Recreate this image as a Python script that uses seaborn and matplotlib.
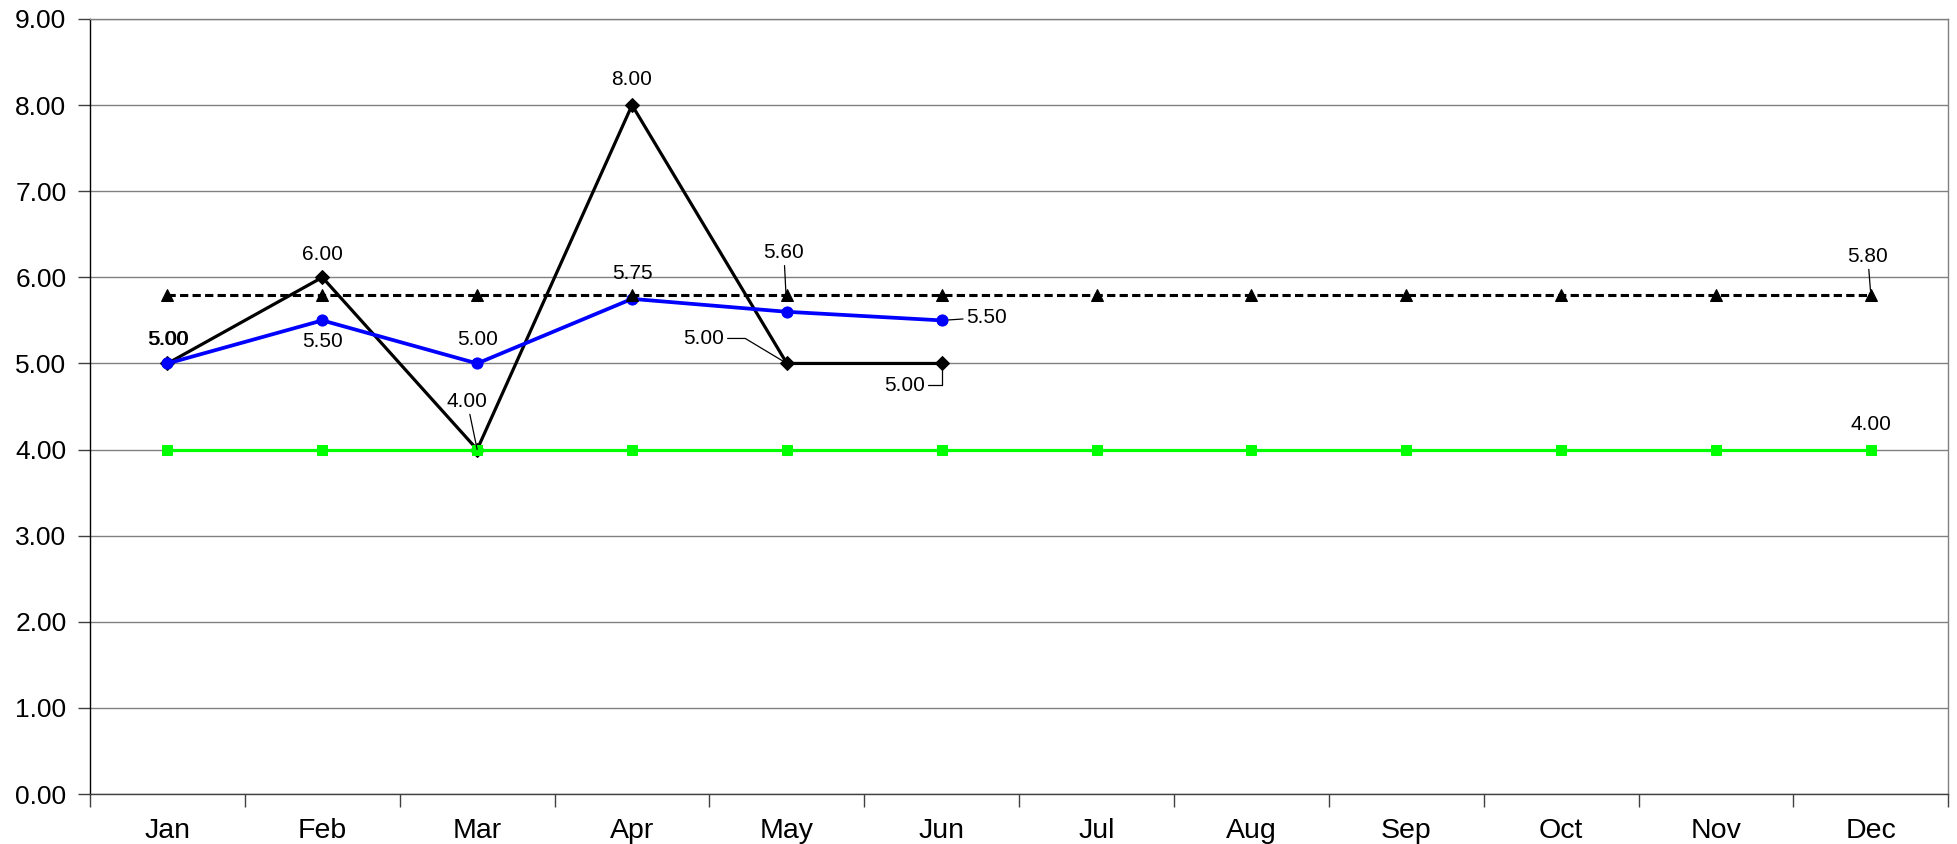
import pandas as pd
import seaborn as sns
import matplotlib.pyplot as plt
from matplotlib.ticker import FormatStrFormatter, FixedLocator

#--------------
months = ['Jan', 'Feb', 'Mar', 'Apr', 'May', 'Jun', 'Jul', 'Aug', 'Sep', 'Oct', 'Nov', 'Dec']
actual = [5.00, 6.00, 4.00, 8.00, 5.00, 5.00]
average = [5.00, 5.50, 5.00, 5.75, 5.60, 5.50]
target = [5.80, 5.80, 5.80, 5.80, 5.80, 5.80, 5.80, 5.80, 5.80, 5.80, 5.80, 5.80]
minimum = [4.00, 4.00, 4.00, 4.00, 4.00, 4.00, 4.00, 4.00, 4.00, 4.00, 4.00, 4.00]
y_ticks = [0, 1, 2, 3, 4, 5, 6, 7, 8, 9]

#--------------
sns.set_style('white')
plt.rcParams['font.family'] = ['Liberation Sans', 'DejaVu Sans']
plt.rcParams['text.color'] = 'black'
plt.rcParams['xtick.labelcolor'] = 'black'
plt.rcParams['ytick.labelcolor'] = 'black'

fig, ax = plt.subplots(figsize=(19.58, 8.44), dpi=100)
fig.subplots_adjust(left=0.046, right=0.995, top=0.9775, bottom=0.0592)

pos = list(range(len(months)))
df_act = pd.DataFrame({'pos': pos[:len(actual)], 'val': actual})
df_avg = pd.DataFrame({'pos': pos[:len(average)], 'val': average})
df_tgt = pd.DataFrame({'pos': pos, 'val': target})
df_min = pd.DataFrame({'pos': pos, 'val': minimum})

sns.lineplot(data=df_act, x='pos', y='val', ax=ax, color='black', linewidth=2.3,
             marker='D', markersize=7, markeredgecolor='black', zorder=3)
sns.lineplot(data=df_avg, x='pos', y='val', ax=ax, color='#0000ff', linewidth=2.7,
             marker='o', markersize=8, markeredgecolor='#0000ff', zorder=4)
sns.lineplot(data=df_tgt, x='pos', y='val', ax=ax, color='black', linewidth=2.2,
             linestyle=(0, (2.7, 1.4)), marker='^', markersize=8.5,
             markeredgecolor='black', zorder=5)
sns.lineplot(data=df_min, x='pos', y='val', ax=ax, color='#00ff00', linewidth=2.3,
             marker='s', markersize=7, markeredgecolor='#00ff00', zorder=6)

#--------------
ax.set_xlim(-0.5, len(months) - 0.5)
ax.set_ylim(0, 9)
ax.set_yticks(y_ticks)
ax.yaxis.set_major_formatter(FormatStrFormatter('%.2f'))
ax.xaxis.set_major_locator(FixedLocator([p - 0.5 for p in pos] + [len(months) - 0.5]))
ax.xaxis.set_minor_locator(FixedLocator(pos))
ax.set_xticklabels([], minor=False)
ax.set_xticklabels(months, minor=True)
ax.tick_params(axis='x', which='major', bottom=True, direction='out', length=9,
               width=1, color='#404040')
ax.tick_params(axis='x', which='minor', bottom=True, length=0, pad=17,
               labelsize=20.5, labelcolor='black')
ax.tick_params(axis='y', left=True, direction='out', length=9, width=1,
               color='#404040', pad=8, labelsize=19, labelcolor='black')
ax.set_xlabel('')
ax.set_ylabel('')
ax.grid(axis='y', color='#808080', linewidth=1)
ax.set_axisbelow(True)
for s in ['top', 'right']:
    ax.spines[s].set_color('#808080')
ax.spines['left'].set_color('black')
ax.spines['bottom'].set_color('#404040')
for s in ax.spines.values():
    s.set_linewidth(1)


def label(x, y, dx, dy, conn=None, shrink=0):
    kw = {}
    if conn is not None:
        kw['arrowprops'] = dict(arrowstyle='-', color='black', linewidth=0.9,
                                connectionstyle=conn, shrinkA=0, shrinkB=shrink)
    ax.annotate(f'{y:.2f}', (x, y), xytext=(dx, dy), textcoords='offset pixels',
                ha='center', va='center', fontsize=15, color='black',
                zorder=10, **kw)


# data labels
label(0, actual[0], 0, 24)
label(0, average[0], 1, 24)
label(1, actual[1], 0, 23)
label(1, average[1], 0, -21)
label(2, average[2], 0, 24)
label(2, actual[2], -10, 48, 'arc3', 0)
label(3, actual[3], 0, 26)
label(3, average[3], 0, 25)
label(4, actual[4], -83, 25, 'angle,angleA=0,angleB=-31,rad=0', 0)
label(4, average[4], -3, 59, 'arc3', 10)
label(5, actual[5], -37, -22, 'angle,angleA=0,angleB=90,rad=0', 5)
label(5, average[5], 45, 3, 'arc3', 5)
label(11, target[11], -3, 38, 'arc3', 3)
label(11, minimum[11], 0, 25)

ax.get_legend() and ax.get_legend().remove()
plt.savefig('out.png', dpi=100)
